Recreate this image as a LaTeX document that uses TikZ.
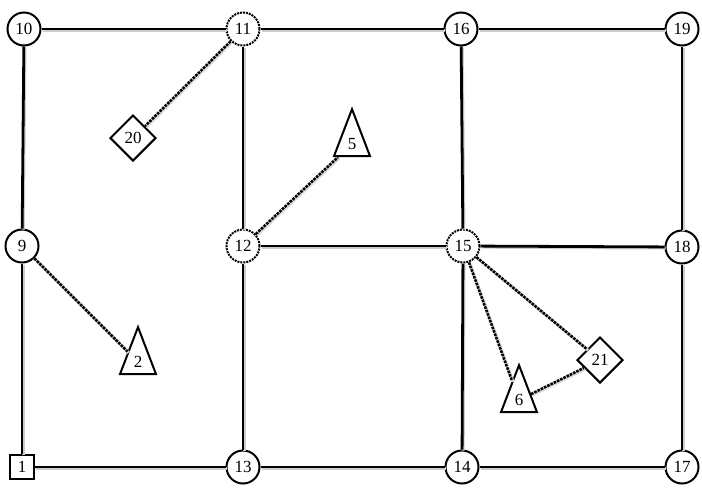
\documentclass[tikz,border=0pt]{standalone}
\usepackage{fontspec}
\setmainfont{Liberation Serif}
\usetikzlibrary{shapes.geometric}
\begin{document}
\begin{tikzpicture}[x=1pt,y=-1pt,
  every node/.style={font=\fontsize{17}{17}\selectfont},
  vtx/.style={circle,draw,line width=2pt,minimum size=33pt,inner sep=0pt,fill=white},
  dvtx/.style={vtx,densely dotted},
  sq/.style={rectangle,draw,line width=2pt,minimum size=24pt,inner sep=0pt,fill=white},
  dia/.style={diamond,draw,line width=2pt,minimum size=46pt,inner sep=0pt,fill=white},
  tri/.style={isosceles triangle,shape border rotate=90,isosceles triangle stretches,
    minimum width=36pt,minimum height=47pt,
    draw,line width=2pt,inner sep=0pt,fill=white},
  edge/.style={line width=2.8pt,preaction={draw,gray!40,line width=3pt,transform canvas={shift={(1.1pt,-1.1pt)}}}},
  dedge/.style={line width=2.6pt,densely dotted,preaction={draw,solid,gray!30,line width=3pt,transform canvas={shift={(1.1pt,-1.1pt)}}}}
]
\useasboundingbox (0,0) rectangle (702,499);
\node[vtx] (n10) at (24,29) {10};
\node[dvtx] (n11) at (243,29) {11};
\node[vtx] (n16) at (461,29) {16};
\node[vtx] (n19) at (682,29) {19};
\node[vtx] (n9) at (22,246) {9};
\node[dvtx] (n12) at (243,246) {12};
\node[dvtx] (n15) at (463,246) {15};
\node[vtx] (n18) at (682,247) {18};
\node[sq] (n1) at (22,467) {1};
\node[vtx] (n13) at (243,467) {13};
\node[vtx] (n14) at (462,467) {14};
\node[vtx] (n17) at (682,467) {17};
\node[dia] (n20) at (133,138) {20};
\node[dia] (n21) at (600,360) {21};
\node[tri] (n5) at (352,144) {5};
\node[tri] (n2) at (138,362) {2};
\node[tri] (n6) at (519,400) {6};
\draw[edge] (n10) -- (n11);
\draw[edge] (n11) -- (n16);
\draw[edge] (n16) -- (n19);
\draw[edge] (n10) -- (n9);
\draw[edge] (n9) -- (n1);
\draw[edge] (n1) -- (n13);
\draw[edge] (n13) -- (n14);
\draw[edge] (n14) -- (n17);
\draw[edge] (n17) -- (n18);
\draw[edge] (n18) -- (n19);
\draw[edge] (n11) -- (n12);
\draw[edge] (n12) -- (n13);
\draw[edge] (n12) -- (n15);
\draw[edge] (n15) -- (n16);
\draw[edge] (n15) -- (n14);
\draw[edge] (n15) -- (n18);
\draw[dedge] (n11) -- (n20);
\draw[dedge] (n12) -- (n5);
\draw[dedge] (n9) -- (n2);
\draw[dedge] (n15) -- (n6);
\draw[dedge] (n15) -- (n21);
\draw[dedge] (n6) -- (n21);
\end{tikzpicture}
\end{document}
